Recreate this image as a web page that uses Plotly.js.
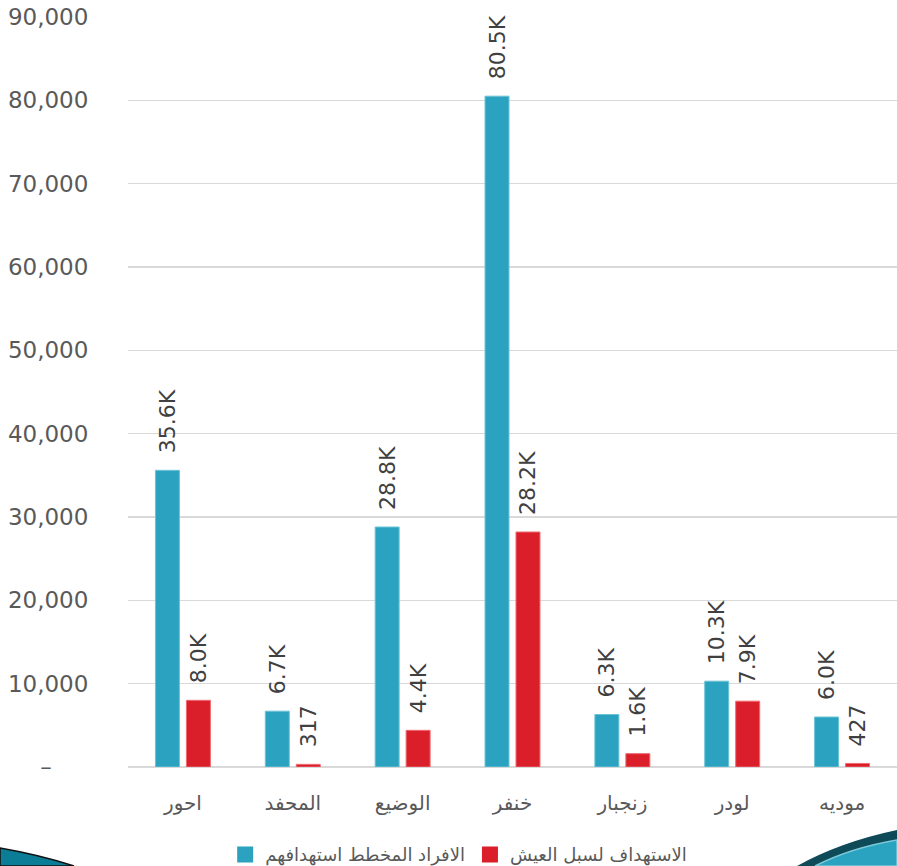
<!DOCTYPE html>
<html>
<head>
<meta charset="utf-8">
<script src="https://cdn.plot.ly/plotly-3.0.1.min.js"></script>
<style>html,body{margin:0;padding:0;background:#fff;}#chart{width:897px;height:866px;}</style>
</head>
<body>
<div id="chart"></div>
<script>
const categories = ['احور', 'المحفد', 'الوضيع', 'خنفر', 'زنجبار', 'لودر', 'موديه'];
const seriesNames = ['الافراد المخطط استهدافهم', 'الاستهداف لسبل العيش'];
const plannedValues = [35600, 6700, 28800, 80500, 6300, 10300, 6000];
const livelihoodValues = [8000, 317, 4400, 28200, 1600, 7900, 427];
const yTickValues = [0, 10000, 20000, 30000, 40000, 50000, 60000, 70000, 80000, 90000];
const yTickLabels = ['–\u00a0\u00a0\u00a0\u00a0\u00a0', '10,000', '20,000', '30,000', '40,000', '50,000', '60,000', '70,000', '80,000', '90,000'];
const seriesColors = ['#2ba3c0', '#da1f2a'];

function fmt(v) {
  const s = v >= 1000 ? (v / 1000).toFixed(1) + 'K' : String(v);
  return '\u00a0\u00a0' + s;
}

const W = 897, H = 866, L = 128, R = 897, T = 17, B = 767;
function px(x) { return ((x - L) / (R - L)).toFixed(4); }
function py(y) { return ((B - y) / (B - T)).toFixed(4); }

const labelFont = {family: 'DejaVu Sans', size: 22, color: '#404040'};

const traces = [
  {
    type: 'bar', name: seriesNames[0], x: categories, y: plannedValues,
    text: plannedValues.map(fmt), textposition: 'outside', textangle: -90,
    textfont: labelFont, cliponaxis: false, constraintext: 'none',
    marker: {color: seriesColors[0], line: {color: '#6cc3d6', width: 1}},
    hoverinfo: 'none', showlegend: false
  },
  {
    type: 'bar', name: seriesNames[1], x: categories, y: livelihoodValues,
    text: livelihoodValues.map(fmt), textposition: 'outside', textangle: -90,
    textfont: labelFont, cliponaxis: false, constraintext: 'none',
    marker: {color: seriesColors[1], line: {color: '#ee6a70', width: 1}},
    hoverinfo: 'none', showlegend: false
  },
  {
    type: 'scatter', mode: 'markers', name: seriesNames[0], x: [null], y: [null],
    marker: {symbol: 'square', size: 16, color: seriesColors[0]}, hoverinfo: 'none'
  },
  {
    type: 'scatter', mode: 'markers', name: seriesNames[1], x: [null], y: [null],
    marker: {symbol: 'square', size: 16, color: seriesColors[1]}, hoverinfo: 'none'
  }
];

const leftSwoosh = `M ${px(0)} ${py(848)} Q ${px(40)} ${py(855)} ${px(74)} ${py(866)} L ${px(0)} ${py(866)} Z`;
const rightOuter = `M ${px(797)} ${py(866)} Q ${px(840)} ${py(842)} ${px(897)} ${py(830)} L ${px(897)} ${py(866)} Z`;
const rightInner = `M ${px(815)} ${py(866)} Q ${px(850)} ${py(848)} ${px(897)} ${py(840)} L ${px(897)} ${py(866)} Z`;

const layout = {
  width: W, height: H,
  margin: {l: L, r: W - R, t: T, b: H - B, pad: 0, autoexpand: false},
  paper_bgcolor: '#ffffff', plot_bgcolor: '#ffffff',
  barmode: 'group', bargap: 0.436, bargroupgap: 0.226,
  showlegend: true,
  legend: {
    orientation: 'h', x: 0.43, xanchor: 'center', y: -0.117, yanchor: 'middle',
    font: {family: 'DejaVu Sans', size: 18, color: '#595959'},
    itemwidth: 30, traceorder: 'normal'
  },
  xaxis: {
    type: 'category', showgrid: false, zeroline: false, showline: false,
    ticks: 'outside', ticklen: 18, tickcolor: 'rgba(0,0,0,0)',
    tickfont: {family: 'DejaVu Sans', size: 20, color: '#595959'},
    fixedrange: true
  },
  yaxis: {
    range: [0, 90000], tickmode: 'array', tickvals: yTickValues, ticktext: yTickLabels,
    showgrid: true, gridcolor: '#d9d9d9', gridwidth: 1.5,
    zeroline: true, zerolinecolor: '#d9d9d9', zerolinewidth: 1.5,
    showline: false, ticks: 'outside', ticklen: 34, tickcolor: 'rgba(0,0,0,0)',
    tickfont: {family: 'DejaVu Sans', size: 23, color: '#595959'},
    fixedrange: true
  },
  shapes: [
    {type: 'path', xref: 'paper', yref: 'paper', path: leftSwoosh, fillcolor: '#0b7d97', line: {color: '#111111', width: 1.5}, layer: 'above'},
    {type: 'path', xref: 'paper', yref: 'paper', path: rightOuter, fillcolor: '#0f4a58', line: {width: 0}, layer: 'above'},
    {type: 'path', xref: 'paper', yref: 'paper', path: rightInner, fillcolor: '#2aa3c0', line: {color: '#7cc9da', width: 1.5}, layer: 'above'}
  ]
};

Plotly.newPlot('chart', traces, layout, {displayModeBar: false, staticPlot: true});
</script>
</body>
</html>
